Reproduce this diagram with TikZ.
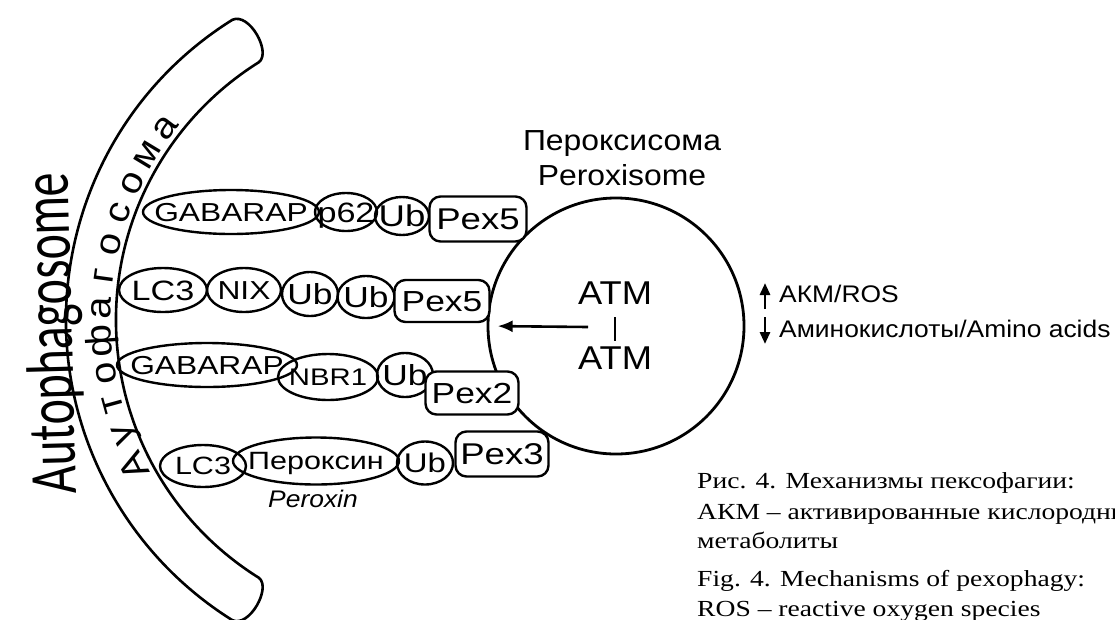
\documentclass[tikz,border=0pt]{standalone}
\usepackage{fontspec}
\setmainfont[FakeStretch=1.1]{Liberation Sans}
\newfontfamily\molfont[FakeStretch=1.22]{Liberation Sans}
\newfontfamily\capfont[FakeStretch=1.2]{Liberation Serif}
\newfontfamily\calfont{Carlito}
\newfontfamily\bandfont[FakeStretch=1.1]{Liberation Sans}
\usetikzlibrary{shapes.geometric,arrows.meta}
\newcommand\ctext[2]{{\molfont\fontsize{#1}{#1}\selectfont\makebox[0pt]{\raisebox{-.358em}[0pt][0pt]{#2}}}}
\begin{document}
\begin{tikzpicture}[x=1pt,y=1pt,line join=round,
  mol/.style={draw,ellipse,line width=2.4pt,inner sep=0pt},
  pexbox/.style={draw,rectangle,rounded corners=11pt,fill=white,line width=2.4pt,inner sep=0pt},
  lab/.style={inner sep=0pt,anchor=base},
  bandletter/.style={inner sep=0pt,anchor=base,font=\bandfont\fontsize{36}{36}\selectfont},
  caption/.style={inner sep=0pt,anchor=base west,font=\capfont\fontsize{23}{23}\selectfont},
  arrowline/.style={line width=2.6pt,-{Latex[length=15pt,width=12pt]}},
  smallarrow/.style={line width=2.8pt,-{Triangle[length=12pt,width=10pt]}}]
\path[use as bounding box] (0,0) rectangle (1115,-619);
% autophagosome band
\coordinate (C) at (420,-320);
\draw[line width=2.6pt] ([shift={(122:354)}]C) arc[start angle=122,end angle=238,radius=354]
  .. controls ([shift={(241:352)}]C) and ([shift={(241:306)}]C) .. ([shift={(238:304)}]C)
  arc[start angle=238,end angle=122,radius=304]
  .. controls ([shift={(119:306)}]C) and ([shift={(119:352)}]C) .. cycle;
\foreach \ch [count=\i from 0] in {А,у,т,о,ф,а,г,о,с,о,м,а}{
  \pgfmathsetmacro{\ang}{207-\i*5.82}
  \node[bandletter,rotate=\ang-90] (band\i) at ([shift={(\ang:309)}]C) {\ch};
}
\node[rotate=91.5,inner sep=0pt,anchor=base] (autoph) at (72,-333)
  {\scalebox{1}[1.4]{\calfont\fontsize{48}{48}\selectfont Autophagosome}};
% peroxisome
\node[circle,draw,line width=2.8pt,minimum size=256pt,inner sep=0pt] (cir) at (616,-326) {};
\node[lab,font=\fontsize{29}{29}\selectfont] (pru) at (622,-150) {Пероксисома};
\node[lab,font=\fontsize{29}{29}\selectfont] (pen) at (622,-185) {Peroxisome};
\node[lab,font=\fontsize{33}{33}\selectfont] (atm1) at (615,-304) {ATM};
\node[lab,font=\fontsize{33}{33}\selectfont] (atm2) at (615,-369) {ATM};
\draw[line width=2.8pt,shorten <=13pt,shorten >=5pt] (atm1.south) -- (atm2.north);
\coordinate (atail) at (588,-327);
\draw[arrowline,shorten >=11pt] (atail) -- (cir.west);
% signals
\coordinate (u1) at (765,-309);
\coordinate (u2) at (765,-283);
\coordinate (d1) at (765,-317);
\coordinate (d2) at (765,-344);
\draw[smallarrow] (u1) -- (u2);
\draw[smallarrow] (d1) -- (d2);
\node[inner sep=0pt,anchor=base west,font=\fontsize{24}{24}\selectfont] (ros) at (779,-302) {АКМ/ROS};
\node[inner sep=0pt,anchor=base west,font=\fontsize{24}{24}\selectfont] (amino) at (779,-337) {Аминокислоты/Amino acids};
% row 1
\node[mol,minimum width=176pt,minimum height=44pt] (g1) at (231,-212) {\ctext{26}{GABARAP}};
\node[mol,minimum width=62pt,minimum height=38pt] (p62) at (346,-212) {\ctext{28}{p62}};
\node[mol,minimum width=54pt,minimum height=38pt] (ub1) at (402,-216) {\ctext{30}{Ub}};
\node[pexbox,minimum width=97pt,minimum height=45pt] (pex5a) at (478,-219) {\ctext{30}{Pex5}};
% row 2
\node[mol,minimum width=88pt,minimum height=44pt] (lc3a) at (163,-290) {\ctext{28}{LC3}};
\node[mol,minimum width=74pt,minimum height=44pt] (nix) at (244,-290) {\ctext{26}{NIX}};
\node[mol,minimum width=56pt,minimum height=44pt] (ub2) at (310,-294) {\ctext{29}{Ub}};
\node[mol,minimum width=57pt,minimum height=42pt] (ub3) at (366,-297) {\ctext{29}{Ub}};
\node[pexbox,minimum width=95pt,minimum height=42pt] (pex5b) at (442,-301) {\ctext{29}{Pex5}};
% row 3
\node[mol,minimum width=180pt,minimum height=44pt] (g2) at (207,-365) {\ctext{26}{GABARAP}};
\node[mol,minimum width=100pt,minimum height=46pt] (nbr1) at (328,-377) {\ctext{24}{NBR1}};
\node[mol,minimum width=56pt,minimum height=44pt] (ub4) at (405,-375) {\ctext{29}{Ub}};
\node[pexbox,minimum width=93pt,minimum height=43pt] (pex2) at (472,-393) {\ctext{29}{Pex2}};
% row 4
\node[mol,minimum width=86pt,minimum height=42pt] (lc3b) at (203,-466) {\ctext{25}{LC3}};
\node[mol,minimum width=166pt,minimum height=47pt] (perox) at (316,-461) {\ctext{25}{Пероксин}};
\node[mol,minimum width=56pt,minimum height=43pt] (ub5) at (425,-463) {\ctext{27}{Ub}};
\node[pexbox,minimum width=93pt,minimum height=45pt] (pex3) at (502,-454) {\ctext{30}{Pex3}};
\node[lab,font=\itshape\fontsize{24}{24}\selectfont] (peroxin) at (313,-507) {Peroxin};
% caption
\node[caption] (c1) at (697,-488) {Рис. 4. Механизмы пексофагии:};
\node[caption] (c2) at (697,-519) {АКМ – активированные кислородные};
\node[caption] (c3) at (697,-548) {метаболиты};
\node[caption] (c4) at (697,-586) {Fig. 4. Mechanisms of pexophagy:};
\node[caption] (c5) at (697,-616) {ROS – reactive oxygen species};
\end{tikzpicture}
\end{document}
